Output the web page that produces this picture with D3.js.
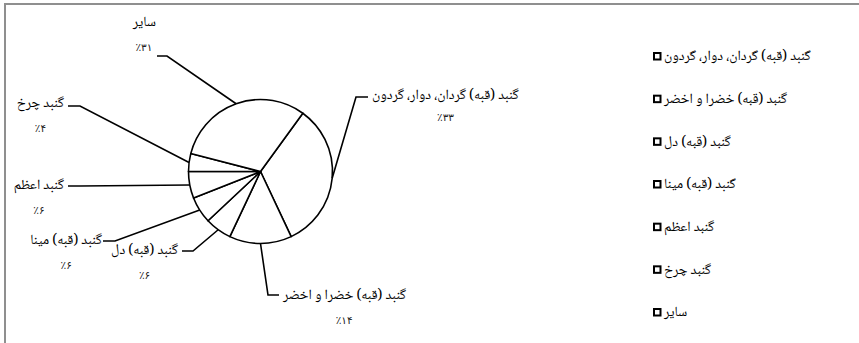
<!DOCTYPE html>
<html>
<head>
<meta charset="utf-8">
<script src="https://cdn.jsdelivr.net/npm/d3@7"></script>
<style>
  html, body { margin: 0; padding: 0; background: #fff; }
  svg { display: block; }
  text { font-family: "Noto Naskh Arabic", "Noto Sans Arabic", "DejaVu Sans", sans-serif; fill: #000; }
  text.pct { font-family: "DejaVu Sans", sans-serif; fill: #222; }
</style>
</head>
<body>
<svg id="chart" width="859" height="343"></svg>
<script>
// ---- data ----
const categories = [
  "گنبد (قبه) گردان، دوار، گردون",
  "گنبد (قبه) خضرا و اخضر",
  "گنبد (قبه) دل",
  "گنبد (قبه) مینا",
  "گنبد اعظم",
  "گنبد چرخ",
  "سایر"
];
const values = [33, 14, 6, 6, 6, 4, 31];
const percentLabels = ["٪۳۳", "٪۱۴", "٪۶", "٪۶", "٪۶", "٪۴", "٪۳۱"];

// ---- layout (label placement, pixels) ----
const labelLayout = [
  { elbow: [356, 97],  end: [368, 97],  text: [372, 95],  anchor: "start" },
  { elbow: [268, 295], end: [279, 295], text: [283, 295], anchor: "start" },
  { elbow: [193, 251], end: [182, 251], text: [178, 250], anchor: "end" },
  { elbow: [115, 241], end: [103, 241], text: [102, 240], anchor: "end" },
  { elbow: [80, 186],  end: [68, 186],  text: [64, 185],  anchor: "end" },
  { elbow: [80, 106],  end: [68, 106],  text: [64, 103],  anchor: "end" },
  { elbow: [167, 56],  end: [157, 56],  text: [156, 22],  anchor: "end" }
];

const W = 859, H = 343;
const cx = 260.5, cy = 171.5, R = 72;
const startDeg = 36;
const fontSize = 14;

const svg = d3.select("#chart");

// outer border
svg.append("rect")
  .attr("x", 5).attr("y", 4)
  .attr("width", W + 20).attr("height", H + 20)
  .attr("fill", "none").attr("stroke", "#8f8f8f").attr("stroke-width", 2);

const data = categories.map((c, i) => ({ name: c, value: values[i], pct: percentLabels[i], lay: labelLayout[i] }));

const pie = d3.pie().sort(null).value(d => d.value)
  .startAngle(startDeg * Math.PI / 180)
  .endAngle(startDeg * Math.PI / 180 + 2 * Math.PI);
const arcs = pie(data);

const arc = d3.arc().innerRadius(0).outerRadius(R);
const edgeArc = d3.arc().innerRadius(R).outerRadius(R);

const g = svg.append("g").attr("transform", `translate(${cx},${cy})`);
g.selectAll("path.slice").data(arcs).join("path")
  .attr("class", "slice")
  .attr("d", arc)
  .attr("fill", "#fff")
  .attr("stroke", "#000")
  .attr("stroke-width", 1.6)
  .attr("stroke-linejoin", "round");

// leader lines
const line = d3.line();
svg.selectAll("path.leader").data(arcs).join("path")
  .attr("class", "leader")
  .attr("d", d => {
    const c = edgeArc.centroid(d);
    return line([[cx + c[0], cy + c[1]], d.data.lay.elbow, d.data.lay.end]);
  })
  .attr("fill", "none")
  .attr("stroke", "#000")
  .attr("stroke-width", 1.6);

// labels
arcs.forEach(d => {
  const lay = d.data.lay;
  const t = svg.append("text")
    .attr("x", lay.text[0]).attr("y", lay.text[1])
    .attr("dy", "0.3em")
    .attr("text-anchor", lay.anchor)
    .attr("font-size", fontSize)
    .text(d.data.name);
  const bb = t.node().getBBox();
  svg.append("text")
    .attr("class", "pct")
    .attr("x", bb.x + bb.width / 2)
    .attr("y", lay.text[1] + (lay.anchor === "start" && lay.text[1] < 150 ? 22 : 25))
    .attr("dy", "0.35em")
    .attr("text-anchor", "middle")
    .attr("font-size", 10.5)
    .text(d.data.pct);
});

// legend
const ly = d3.scalePoint().domain(categories).range([56, 312]);
const leg = svg.append("g").selectAll("g").data(categories).join("g")
  .attr("transform", d => `translate(653,${ly(d)})`);
leg.append("rect")
  .attr("x", 1).attr("y", -3)
  .attr("width", 6.5).attr("height", 6.5)
  .attr("fill", "#fff").attr("stroke", "#000").attr("stroke-width", 2);
leg.append("text")
  .attr("x", 11).attr("y", 0)
  .attr("dy", "0.3em")
  .attr("font-size", fontSize)
  .text(d => d);
</script>
</body>
</html>
